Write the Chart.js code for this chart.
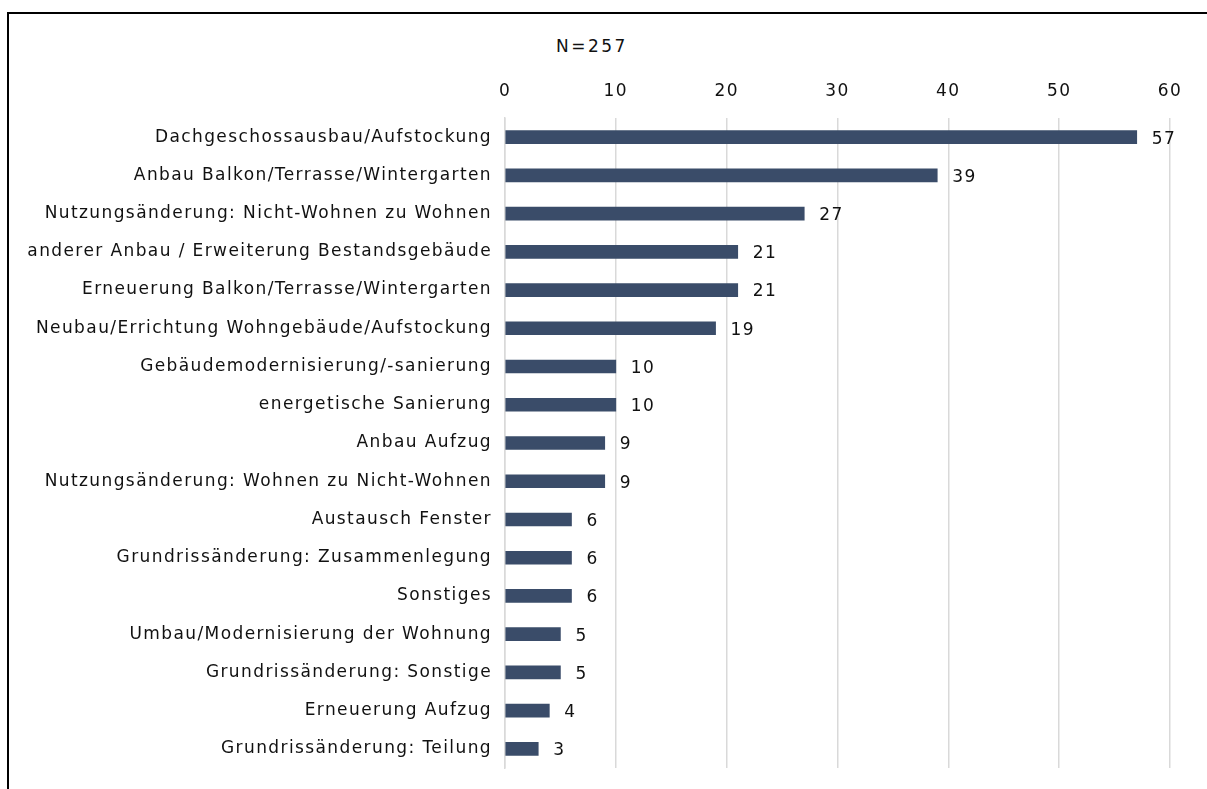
<!DOCTYPE html>
<html>
<head>
<meta charset="utf-8">
<script src="https://cdn.jsdelivr.net/npm/chart.js@4.4.1/dist/chart.umd.min.js"></script>
<style>
  html, body { margin: 0; padding: 0; background: #fff; }
  #wrap { position: relative; width: 1207px; height: 789px; overflow: hidden; }
  #frame { position: absolute; left: 7px; top: 12px; width: 1300px; height: 900px;
           border-left: 2px solid #000; border-top: 2px solid #000; box-sizing: border-box; }
  #n { position: absolute; left: 556px; top: 36px; font: 17px "DejaVu Sans", sans-serif;
       letter-spacing: 2.5px; color: #111; }
  canvas { position: absolute; left: 0; top: 0; }
</style>
</head>
<body>
<div id="wrap">
  <div id="frame"></div>
  <div id="n">N=257</div>
  <canvas id="chart" width="1207" height="789"></canvas>
</div>
<script>
'use strict';

// Daten
const kategorien = [
  'Dachgeschossausbau/Aufstockung',
  'Anbau Balkon/Terrasse/Wintergarten',
  'Nutzungsänderung: Nicht-Wohnen zu Wohnen',
  'anderer Anbau / Erweiterung Bestandsgebäude',
  'Erneuerung Balkon/Terrasse/Wintergarten',
  'Neubau/Errichtung Wohngebäude/Aufstockung',
  'Gebäudemodernisierung/-sanierung',
  'energetische Sanierung',
  'Anbau Aufzug',
  'Nutzungsänderung: Wohnen zu Nicht-Wohnen',
  'Austausch Fenster',
  'Grundrissänderung: Zusammenlegung',
  'Sonstiges',
  'Umbau/Modernisierung der Wohnung',
  'Grundrissänderung: Sonstige',
  'Erneuerung Aufzug',
  'Grundrissänderung: Teilung'
];
const anzahl = [57, 39, 27, 21, 21, 19, 10, 10, 9, 9, 6, 6, 6, 5, 5, 4, 3];
const achseMax = 60;
const achseSchritt = 10;

const barColor = '#3a4c69',
  gridColor = '#d9d9d9',
  textColor = '#111111',
  fontFamily = '"DejaVu Sans", sans-serif';

// etwas breitere Schrift, wie im Original
const spacing = {
  id: 'spacing',
  beforeDraw(chart) {
    chart.ctx.letterSpacing = '1.4px';
  }
};

// Werte rechts neben den Balken
const valueLabels = {
  id: 'valueLabels',
  afterDatasetsDraw(chart) {
    const ctx = chart.ctx;
    const meta = chart.getDatasetMeta(0);
    ctx.save();
    ctx.font = '17px ' + fontFamily;
    ctx.fillStyle = textColor;
    ctx.textAlign = 'left';
    ctx.textBaseline = 'middle';
    meta.data.forEach(function (bar, i) {
      ctx.fillText(String(chart.data.datasets[0].data[i]), bar.x + 15, bar.y + 2);
    });
    ctx.restore();
  }
};

new Chart(document.getElementById('chart'), {
  type: 'bar',
  data: {
    labels: kategorien,
    datasets: [{
      data: anzahl,
      backgroundColor: barColor,
      borderWidth: 0,
      barThickness: 13
    }]
  },
  options: {
    indexAxis: 'y',
    responsive: false,
    animation: false,
    layout: { padding: { top: 78, right: 37, bottom: 21, left: 0 } },
    plugins: {
      legend: { display: false },
      tooltip: { enabled: false }
    },
    scales: {
      x: {
        position: 'top',
        min: 0,
        max: achseMax,
        border: { display: false },
        grid: { color: gridColor, lineWidth: 1.5, drawTicks: false },
        ticks: {
          stepSize: achseSchritt,
          padding: 16,
          color: textColor,
          font: { family: fontFamily, size: 17 }
        },
        afterFit(scale) { scale.height = 40; }
      },
      y: {
        border: { display: true, color: gridColor, width: 1.5 },
        grid: { display: false },
        ticks: {
          padding: 5,
          color: textColor,
          font: { family: fontFamily, size: 17 }
        },
        afterFit(scale) { scale.width = 505; }
      }
    }
  },
  plugins: [spacing, valueLabels]
});
</script>
</body>
</html>
